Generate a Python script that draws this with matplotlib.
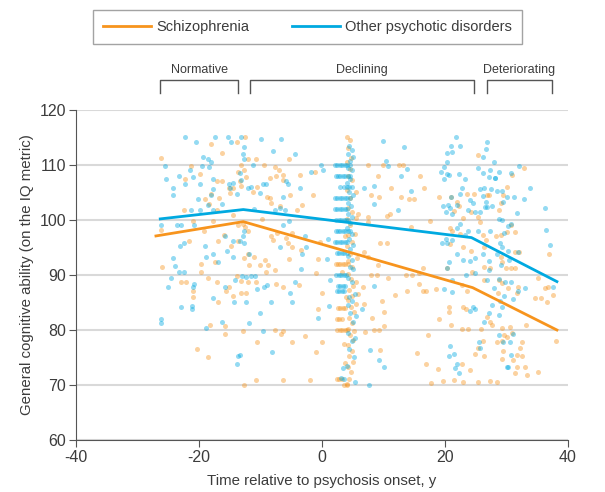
import numpy as np
import matplotlib.pyplot as plt
import matplotlib.transforms as mtransforms

plt.rcParams['font.family'] = ['Liberation Sans', 'DejaVu Sans']
plt.rcParams['axes.unicode_minus'] = False

# individual IQ scores (time relative to onset, IQ)
schizo_early = [(-26.2,111.2),(-18.0,113.9),(-13.9,114.2),(-16.2,112.1),(-21.3,109.9),(-22.3,107.5),(-19.8,108.3),(-17.1,107.0),
    (-16.2,107.0),(-15.1,105.9),(-14.4,105.9),(-14.9,104.9),(-13.3,107.0),(-13.7,108.8),(-18.0,104.7),(-19.0,103.8),(-16.7,104.0),
    (-18.4,102.9),(-22.4,101.9),(-17.1,101.9),(-14.5,100.9),(-21.0,99.9),(-17.7,99.9),(-13.7,99.1),(-26.2,98.1),(-19.2,98.0),
    (-21.7,96.2),(-15.9,97.3),(-16.9,96.2),(-14.8,95.3),(-13.6,96.2),(-17.4,92.4),(-19.6,92.0),(-19.7,90.6),(-13.9,89.8),(-26.0,91.5),
    (-23.0,88.8),(-22.1,88.8),(-18.6,89.4),(-17.0,88.8),(-15.2,87.9),(-15.6,87.0),(-14.4,86.2),(-21.0,87.0),(-21.0,86.0),(-16.9,85.0),
    (-18.2,80.9),(-15.8,80.7),(-15.8,79.3),(-20.4,76.5),(-18.6,75.0)]
schizo_mid = [(-12.5,115.0),(-13.2,110.0),(-12.0,111.0),(-10.8,111.0),(-9.5,110.0),(-7.7,109.6),(-7.0,109.0),(-6.3,108.2),(-5.3,111.0),
    (-3.5,108.2),(-12.7,109.0),(-12.3,107.9),(-13.1,106.1),(-11.2,105.0),(-10.5,106.0),(-8.5,107.7),(-7.5,108.0),(-6.3,107.3),
    (-8.9,104.1),(-8.3,103.0),(-8.5,104.0),(-5.2,104.5),(-4.0,101.8),(-1.4,104.5),(-1.2,108.7),(-3.3,102.7),(-6.9,102.5),(-9.7,100.1),
    (-12.8,99.2),(-12.5,98.8),(-12.0,98.0),(-8.3,97.0),(-7.9,96.4),(-7.3,97.7),(-5.9,96.8),(-5.6,95.8),(-4.9,97.6),(-4.9,95.0),
    (-3.4,94.5),(-0.3,96.0),(-12.7,93.0),(-11.0,93.3),(-9.3,92.8),(-8.7,91.8),(-10.1,91.9),(-11.9,91.9),(-5.4,92.9),(-0.6,92.9),
    (-7.6,90.9),(-9.1,90.6),(-12.0,93.9),(-13.1,88.9),(-12.1,88.8),(-10.7,88.8),(-7.4,88.4),(-6.3,87.9),(-3.8,88.2),(-0.9,90.3),
    (-13.1,86.8),(-12.4,86.8),(0.0,86.8),(-0.7,83.9),(-12.8,79.8),(-7.6,80.0),(-6.3,79.8),(-6.6,79.2),(-2.8,78.9),(-10.6,77.9),
    (-4.8,77.9),(0.0,77.9),(-1.0,76.0),(-12.7,70.0),(-10.7,70.9),(-6.4,70.9),(-1.9,70.9)]
schizo_onset = [(2.2,92),(2.6,92),(3.0,92),(3.4,92),(3.8,92),(4.2,92),(2.6,84),(3.0,84),(3.4,84),(3.8,84),(2.4,82),(2.8,82),
    (3.2,82),(2.5,80),(2.9,80),(3.3,80),(3.7,80),(4.1,80),(2.4,71),(2.8,71),(3.2,71),(3.6,70),(4.0,70),
    (4.0,115),(4.5,114.5),(4.2,113),(4.7,111.2),(4.0,110.5),(4.6,109.2),(4.3,108),(4.9,107.2),(4.0,105.5),(4.6,104),(4.3,102.2),
    (4.9,101.5),(4.1,100.2),(4.6,99),(4.3,97.2),(4.8,96),(4.1,95.2),(4.6,93.8),(4.3,92.5),(4.9,91.5),(4.2,90.2),(4.7,89.2),
    (5.0,88),(4.4,87.2),(4.9,86.2),(4.2,85.5),(4.7,84.2),(5.2,83.2),(4.4,82.2),(4.9,81.2),(4.2,80.2),(4.6,79.0),(5.1,78.2),
    (4.3,77.2),(4.8,76.2),(4.4,75.2),(5.0,74.2),(4.2,73.3),(4.7,72.3),(4.4,71.0),(4.0,70.2),(5.2,79.8),(5.5,84.8),(5.8,86.5),
    (5.5,88.8),(5.7,93),(5.4,97.5),(5.8,101),(5.5,105),(5.6,100.3),(3.7,97.0),(3.2,90.5),(3.9,86.0),(3.5,77.5),(3.8,74.0)]
schizo_late = [(7.4,110.0),(9.9,110.0),(12.6,110.0),(13.2,110.0),(15.9,108.0),(9.1,108.0),(11.2,105.9),(7.9,104.5),(9.2,104.2),
    (12.9,104.1),(14.2,103.8),(15.0,103.8),(16.6,105.9),(10.6,100.8),(11.0,101.1),(7.5,100.5),(7.4,99.7),(17.6,99.9),(14.5,98.7),
    (9.4,95.9),(10.5,95.9),(6.9,94.2),(7.5,93.3),(9.1,91.8),(8.0,90.0),(8.9,90.0),(10.8,89.5),(13.7,90.0),(14.6,90.0),(16.5,91.3),
    (15.7,90.3),(15.8,88.4),(13.9,87.1),(16.5,87.1),(16.9,87.1),(11.9,86.4),(9.7,85.3),(10.0,83.2),(8.1,82.1),(8.4,80.0),(9.2,80.0),
    (10.1,80.7),(7.0,79.7),(15.4,75.9),(9.4,76.4),(6.6,87.9),(6.9,84.7),
    (25.3,111.9),(19.1,104.1),(21.0,104.1),(21.9,103.2),(22.2,102.5),(21.5,101.6),(23.0,100.4),(24.2,101.5),(25.4,100.6),(25.7,99.7),
    (26.8,104.5),(27.2,104.5),(24.7,104.8),(23.6,104.7),(20.8,98.5),(21.1,98.0),(22.4,97.5),(26.1,97.3),(26.7,96.4),(26.4,95.0),
    (24.3,94.4),(23.0,95.0),(20.8,95.6),(20.3,91.2),(24.4,90.6),(26.4,89.1),(26.4,91.5),(27.3,91.2),(22.8,88.2),(23.5,87.0),
    (18.6,87.5),(23.0,84.2),(23.4,83.9),(20.7,84.1),(20.7,83.2),(19.0,82.0),(21.0,80.9),(22.7,80.2),(23.8,80.2),(26.8,82.4),
    (27.3,81.4),(25.9,80.2),(27.6,80.9),(29.3,80.3),(29.6,79.0),(26.2,78.0),(25.4,76.8),(26.4,75.2),(24.9,75.6),(22.7,73.8),
    (24.0,72.7),(18.9,72.9),(17.3,79.0),(16.9,73.9),(19.7,70.8),(21.4,70.9),(23.0,70.6),(25.4,70.6),(27.3,70.7),(17.8,70.3)]
schizo_last = [(32.8,109.4),(30.9,108.2),(30.1,106.0),(29.5,104.5),(29.1,103.0),(28.8,101.8),(30.7,99.1),(31.4,97.9),(29.1,97.3),
    (30.0,97.8),(28.3,97.0),(31.4,94.1),(32.0,94.1),(29.1,93.2),(29.9,91.3),(30.7,91.2),(31.4,91.3),(29.3,92.4),(28.7,89.1),
    (29.2,88.5),(28.6,86.8),(30.3,87.6),(31.8,87.8),(31.7,86.7),(35.1,89.4),(36.7,87.9),(36.3,87.7),(34.6,85.8),(35.6,85.8),
    (36.6,85.0),(37.6,86.4),(36.9,93.8),(30.6,80.6),(33.1,80.9),(30.9,79.4),(30.0,78.8),(29.2,78.0),(28.4,77.9),(32.2,76.8),
    (32.5,77.9),(31.7,75.4),(32.5,75.3),(29.3,74.7),(31.1,74.6),(31.7,73.3),(33.0,73.2),(33.3,71.9),(31.4,72.1),(35.1,72.4),
    (38.0,78.0),(28.4,70.6),(29.5,76.1)]

other_early = [(-22.2,115.0),(-20.5,114.1),(-17.4,115.0),(-15.3,115.0),(-14.8,114.2),(-19.3,111.5),(-18.6,111.0),(-18.0,110.5),
    (-18.3,109.7),(-19.5,109.9),(-21.4,109.0),(-20.9,107.8),(-25.5,109.9),(-25.3,107.5),(-24.3,105.9),(-24.3,104.6),(-23.2,108.0),
    (-22.3,106.5),(-19.9,106.5),(-17.8,107.5),(-17.8,105.6),(-18.0,104.5),(-20.2,103.9),(-16.2,102.9),(-21.3,101.9),(-19.8,101.9),
    (-17.8,101.8),(-18.5,102.7),(-15.0,105.9),(-15.2,106.5),(-14.4,106.8),(-13.4,108.6),(-13.9,104.8),(-26.1,99.0),(-23.5,99.0),
    (-22.9,99.0),(-20.8,99.0),(-15.8,97.0),(-23.1,95.3),(-22.4,95.9),(-19.1,95.3),(-14.4,96.1),(-13.4,96.1),(-24.3,93.0),(-23.9,91.6),
    (-23.3,90.6),(-22.4,90.6),(-17.7,93.9),(-18.9,93.3),(-16.9,92.4),(-15.4,94.4),(-14.5,93.3),(-24.6,89.4),(-25.0,87.8),(-20.8,88.4),
    (-20.9,87.8),(-14.2,89.0),(-15.8,87.8),(-22.9,84.1),(-21.1,84.4),(-21.2,83.9),(-17.8,85.9),(-14.3,85.0),(-26.1,82.0),(-26.1,81.2),
    (-18.9,80.4),(-16.3,81.5),(-13.6,75.3),(-13.8,73.8)]
other_mid = [(-13.1,115.0),(-12.7,113.2),(-12.9,112.0),(-12.7,111.0),(-11.3,110.0),(-8.0,112.6),(-4.4,112.0),(-6.6,114.8),(-9.9,114.8),
    (-13.2,107.3),(-12.1,105.8),(-11.5,106.0),(-10.1,104.9),(-9.6,106.5),(-9.1,106.5),(-5.9,107.0),(-5.5,106.5),(-3.6,105.9),
    (-6.4,104.1),(-7.6,101.9),(-6.8,102.1),(-6.0,101.9),(-11.1,102.0),(-6.3,99.1),(-5.3,99.9),(-1.8,108.7),(0.2,109.0),(-0.2,110.0),
    (-12.7,98.0),(-12.8,97.0),(-12.7,95.8),(-11.9,93.9),(-6.9,95.0),(-2.6,95.1),(-2.8,97.1),(-3.3,93.8),(0.8,92.9),(-13.0,89.9),
    (-12.3,89.7),(-11.5,89.9),(-10.9,89.9),(-10.6,87.4),(-9.5,87.8),(-9.0,88.2),(-5.2,86.8),(-4.4,88.8),(-12.4,85.0),(-8.3,85.0),
    (-4.8,85.0),(-10.1,83.0),(-11.9,81.2),(-9.6,79.8),(-8.1,76.0),(1.1,84.4),(-0.6,82.2),(-3.4,91.0),(-13.3,75.4),(1.0,96.5),(1.3,89.0)]
other_onset = [(2.1,110),(2.5,110),(2.9,110),(3.3,110),(3.7,110),(4.1,110),(4.5,110),(2.2,108),(2.6,108),(3.0,108),(3.4,108),
    (3.8,108),(4.2,108),(4.6,108),(3.0,106),(3.5,106),(4.0,106),(4.4,106),(2.1,104),(2.5,104),(2.9,104),(3.3,104),(3.7,104),
    (4.1,104),(4.5,104),(2.1,102),(2.5,102),(2.9,102),(3.3,102),(3.7,102),(4.1,102),(2.3,100),(2.7,100),(3.1,100),(3.5,100),
    (3.9,100),(4.3,100),(2.2,98),(2.6,98),(3.0,98),(3.4,98),(3.8,98),(4.2,98),(4.6,98),(2.1,96),(2.5,96),(2.9,96),(3.3,96),
    (3.7,96),(4.1,96),(2.4,94),(2.8,94),(3.2,94),(3.6,94),(4.0,94),(2.3,90),(2.7,90),(3.1,90),(3.5,90),(3.9,90),(2.6,88),
    (3.0,88),(3.4,88),(3.8,88),(2.4,87),(2.8,87),(3.2,87),(3.6,87),
    (4.4,113.5),(4.8,112.8),(4.3,112),(5.0,111.5),(4.6,110.8),(4.2,109.5),(4.9,109),(4.5,107.5),(4.1,106.8),(4.8,106),(4.4,105),
    (5.0,104.5),(4.3,103),(4.7,102.5),(4.2,101),(4.9,100.5),(4.5,99.5),(4.1,98.5),(4.8,97.5),(4.4,96.5),(5.1,95.5),(4.6,94.8),
    (4.2,93.5),(4.9,92.8),(4.5,91.5),(5.0,91),(4.3,89.5),(4.8,88.8),(4.4,86),(4.9,85.2),(4.2,84.5),(4.6,83),(5.1,81.5),(4.3,79.5),
    (4.8,78),(4.4,76.5),(5.2,75),(4.0,73.5),(3.4,73),(3.1,71.2),(3.6,71),(5.3,70.5),(5.4,86.5),(5.6,82.5),(5.3,78.5)]
other_late = [(9.9,114.4),(13.4,113.2),(10.4,110.8),(10.7,109.9),(13.9,109.2),(12.9,108.0),(14.5,105.3),(12.3,101.9),(8.4,106.2),
    (6.9,105.8),(8.5,102.9),(7.8,76.4),(9.3,74.5),(10.0,73.3),(7.7,70.0),(6.5,83.9),(8.4,88.0),
    (21.8,115.0),(20.9,113.5),(22.4,113.5),(21.1,112.3),(20.4,112.1),(20.3,110.6),(19.9,109.7),(19.4,108.7),(20.3,108.3),(19.9,107.5),
    (20.7,108.1),(22.3,108.3),(23.3,107.5),(22.8,105.9),(20.9,104.2),(19.7,102.5),(20.1,101.4),(21.1,101.0),(20.8,102.1),(20.5,102.7),
    (21.9,102.8),(22.4,104.7),(24.1,103.6),(24.5,103.0),(23.8,101.8),(24.9,101.4),(25.7,101.4),(26.5,102.4),(26.9,102.4),(27.6,102.5),
    (26.6,103.3),(26.1,104.4),(25.7,105.6),(26.4,105.9),(27.5,105.6),(27.2,107.8),(28.1,107.6),(26.1,108.6),(25.4,109.5),(27.9,110.6),
    (27.3,109.1),(26.2,111.4),(26.7,112.9),(26.9,114.1),(22.5,99.2),(22.0,98.6),(23.8,98.0),(23.3,97.3),(25.4,98.0),(27.3,98.0),
    (20.1,96.5),(20.3,95.8),(19.5,95.9),(21.1,96.4),(21.9,93.8),(23.0,92.7),(24.0,92.5),(20.7,92.4),(20.4,91.3),(24.9,93.0),
    (26.1,93.9),(27.2,92.5),(27.2,90.9),(24.8,90.3),(23.4,90.0),(26.9,89.1),(27.9,87.6),(19.9,87.4),(21.1,89.1),(21.2,86.9),
    (24.5,84.1),(24.9,83.9),(24.0,83.4),(27.6,84.5),(27.1,83.0),(28.9,85.3),(26.4,81.5),(25.6,77.8),(29.4,77.9),(25.7,76.8),
    (20.8,77.0),(20.7,75.3),(21.5,75.6),(21.9,73.9),(22.2,72.1),(21.7,73.1)]
other_last = [(32.0,109.9),(30.7,108.6),(28.7,108.7),(28.2,107.6),(28.4,105.3),(29.2,105.3),(30.1,104.2),(31.2,104.2),(29.5,103.3),
    (32.8,103.8),(33.8,105.8),(31.7,101.3),(36.3,102.1),(28.8,100.2),(29.2,100.0),(30.7,99.3),(30.3,98.9),(29.6,97.6),(36.4,98.1),
    (28.9,95.9),(29.2,95.1),(28.4,93.8),(30.2,94.4),(31.8,94.1),(37.0,95.5),(29.1,91.9),(30.4,92.8),(28.8,89.2),(29.8,88.8),
    (30.8,88.8),(33.0,87.6),(31.9,87.0),(29.6,86.2),(31.1,85.6),(29.2,84.1),(28.8,82.7),(37.6,87.9),(28.8,79.0),(30.6,77.9),
    (31.1,79.2),(30.7,75.4),(30.0,73.2),(30.3,73.2)]

# fitted trajectories
schizo_line_x = [-27.0, -12.8, 24.5, 38.2]
schizo_line_y = [97.1, 99.7, 87.7, 80.0]
other_line_x = [-26.3, -12.8, 24.3, 38.2]
other_line_y = [100.2, 101.9, 96.8, 88.8]

phases = ['Normative', 'Declining', 'Deteriorating']
phase_start = [-26.3, -11.7, 26.8]
phase_end = [-13.7, 24.7, 37.4]

orange = '#F7941D'
blue = '#00A9E0'
txt = '#3c3c3c'

schizo = np.array(schizo_early + schizo_mid + schizo_onset + schizo_late + schizo_last)
other = np.array(other_early + other_mid + other_onset + other_late + other_last)

fig = plt.figure(figsize=(6.05, 4.92), dpi=100)
ax = fig.add_axes([76/605, 1-440/492, 492/605, 330/492])

ax.scatter(schizo[:, 0], schizo[:, 1], s=13, color=orange, alpha=0.42, linewidths=0, zorder=2)
ax.scatter(other[:, 0], other[:, 1], s=13, color=blue, alpha=0.42, linewidths=0, zorder=2)
ax.plot(schizo_line_x, schizo_line_y, color=orange, lw=2, zorder=3, label='Schizophrenia')
ax.plot(other_line_x, other_line_y, color=blue, lw=2, zorder=3, label='Other psychotic disorders')

ax.set_xlim(-40, 40)
ax.set_ylim(60, 120)
ax.set_xticks([-40, -20, 0, 20, 40])
ax.set_yticks(range(60, 121, 10))
ax.yaxis.grid(True, color='#d9d9d9', lw=1.5)
ax.set_axisbelow(True)
for s in ['top', 'right']:
    ax.spines[s].set_visible(False)
for s in ['left', 'bottom']:
    ax.spines[s].set_color('#555555')
ax.tick_params(colors='#555555', labelcolor=txt, labelsize=11.5, length=5, pad=2)
ax.set_xlabel('Time relative to psychosis onset, y', fontsize=10.8, color=txt, labelpad=7)
ax.set_ylabel('General cognitive ability (on the IQ metric)', fontsize=10.8, color=txt, labelpad=4)

# phase brackets above the plot
trans = mtransforms.blended_transform_factory(ax.transData, ax.transAxes)
for name, x0, x1 in zip(phases, phase_start, phase_end):
    ax.plot([x0, x0, x1, x1], [1.052, 1.091, 1.091, 1.052], color='#555555', lw=1,
            transform=trans, clip_on=False)
    ax.text((x0 + x1) / 2, 1.103, name, transform=trans, ha='center', va='bottom',
            fontsize=9, color=txt)

leg = fig.legend(loc='upper left', bbox_to_anchor=(93/605, 1-10/492), ncol=2, frameon=True,
                 fancybox=False, fontsize=10.5, handlelength=3.3, handletextpad=0.35,
                 columnspacing=2.9, borderaxespad=0, borderpad=0.7)
leg.get_frame().set_edgecolor('#8c8c8c')
leg.get_frame().set_linewidth(1)
for t in leg.get_texts():
    t.set_color(txt)

fig.savefig('out.png', dpi=100)
